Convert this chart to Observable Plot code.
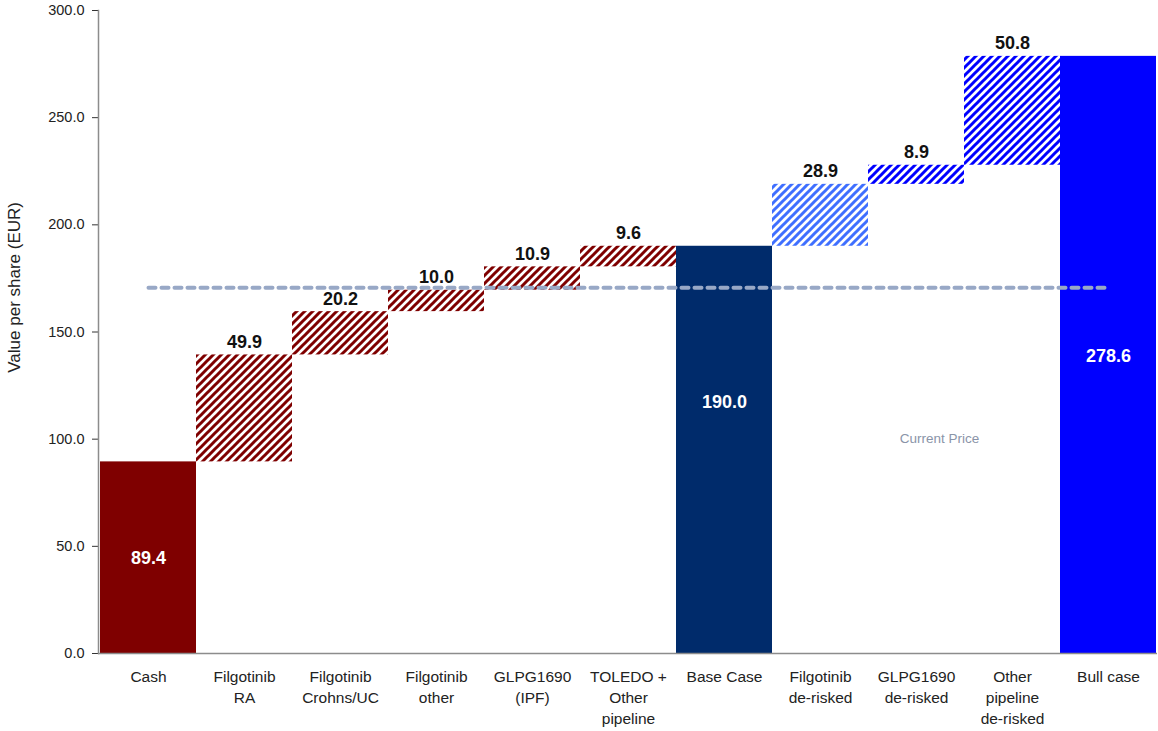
<!DOCTYPE html>
<html>
<head>
<meta charset="utf-8">
<script src="https://cdn.jsdelivr.net/npm/d3@7"></script>
<script src="https://cdn.jsdelivr.net/npm/@observablehq/plot@0.6"></script>
<style>
  html, body { margin: 0; padding: 0; background: #fff; }
  #chart svg { display: block; }
</style>
</head>
<body>
<div id="chart"></div>
<script>
// ---- data ----
const categories = ["Cash", "Filgotinib\nRA", "Filgotinib\nCrohns/UC", "Filgotinib\nother", "GLPG1690\n(IPF)",
  "TOLEDO +\nOther\npipeline", "Base Case", "Filgotinib\nde-risked", "GLPG1690\nde-risked",
  "Other\npipeline\nde-risked", "Bull case"];
const values = [89.4, 49.9, 20.2, 10.0, 10.9, 9.6, 190.0, 28.9, 8.9, 50.8, 278.6];
const isTotal = [true, false, false, false, false, false, true, false, false, false, true];
const barGroup = ["cash", "base", "base", "base", "base", "base", "baseTotal", "bullLight", "bull", "bull", "bullTotal"];
const currentPrice = 170.6;
const currentPriceLabel = "Current Price";
const yTicks = [0, 50, 100, 150, 200, 250, 300];
const yLabel = "Value per share (EUR)";

// ---- styles ----
const groupFill = {
  cash: "#7f0000",
  base: "url(#hatchRed)",
  baseTotal: "#002b6b",
  bullLight: "url(#hatchLightBlue)",
  bull: "url(#hatchBlue)",
  bullTotal: "#0000ff"
};

// build waterfall rows
let running = 0;
const rows = categories.map((c, i) => {
  let y1, y2;
  if (isTotal[i]) { y1 = 0; y2 = values[i]; running = values[i]; }
  else { y1 = running; y2 = running + values[i]; running = y2; }
  return { cat: c, value: values[i], y1, y2, mid: (y1 + y2) / 2, total: isTotal[i], fill: groupFill[barGroup[i]] };
});
const totals = rows.filter(d => d.total);
const steps = rows.filter(d => !d.total);

const font = "'Liberation Sans', Arial, sans-serif";

const chart = Plot.plot({
  width: 1158,
  height: 731,
  marginLeft: 98,
  marginRight: 1,
  marginTop: 10,
  marginBottom: 78,
  style: { fontFamily: font, background: "#fff" },
  x: { domain: categories, padding: 0, axis: null },
  y: { domain: [0, 300], axis: null },
  color: { type: "identity" },
  marks: [
    Plot.barY(rows, { x: "cat", y1: "y1", y2: "y2", fill: "fill", inset: 0 }),
    Plot.ruleY([0], { stroke: "#8c8c8c", strokeWidth: 1.5 }),
    Plot.axisY({ ticks: yTicks, tickFormat: d3.format(".1f"), tickSize: 6, tickPadding: 8,
      fontSize: 14.5, color: "#222", label: null, stroke: "#333" }),
    Plot.frame({ anchor: "left", stroke: "#8c8c8c", strokeWidth: 1.5 }),
    Plot.text([yLabel], { frameAnchor: "left", y: [131], dx: -84, rotate: -90, text: d => d,
      fontSize: 17, fill: "#222" }),
    Plot.line([{ x: categories[0], y: currentPrice }, { x: categories[categories.length - 1], y: currentPrice }],
      { x: "x", y: "y", stroke: "#98a8c6", strokeWidth: 4, strokeDasharray: "7 6", strokeLinecap: "round" }),
    Plot.text(steps, { x: "cat", y: "y2", text: d => d3.format(".1f")(d.value), lineAnchor: "bottom", dy: -7,
      fontSize: 18, fontWeight: "bold", fill: "#111" }),
    Plot.text(totals, { x: "cat", y: "mid", text: d => d3.format(".1f")(d.value), dy: 1,
      fontSize: 18, fontWeight: "bold", fill: "#fff", className: "total-label" }),
    Plot.text(categories, { x: d => d, text: d => d, frameAnchor: "bottom", lineAnchor: "top", dy: 13,
      lineHeight: 1.38, fontSize: 15.5, fill: "#222" }),
    Plot.text([currentPriceLabel], { x: [categories[8]], y: [100.3], dx: 23, text: d => d,
      fontSize: 13.5, fill: "#8a94a8" })
  ]
});

// hatch patterns
const defs = d3.select(chart).insert("defs", ":first-child");
function hatch(id, color, size, sw) {
  const p = defs.append("pattern").attr("id", id).attr("patternUnits", "userSpaceOnUse")
    .attr("width", size).attr("height", size);
  p.append("rect").attr("width", size).attr("height", size).attr("fill", "#fff");
  p.append("path")
    .attr("d", `M${-size/2},${size/2} L${size/2},${-size/2} M0,${size} L${size},0 M${size/2},${size*1.5} L${size*1.5},${size/2}`)
    .attr("stroke", color).attr("stroke-width", sw).attr("stroke-linecap", "square");
}
hatch("hatchRed", "#7f0000", 8, 3);
hatch("hatchLightBlue", "#3f6fff", 8, 3);
hatch("hatchBlue", "#0000ff", 8, 3);

// Base case label sits higher than the middle in the reference
d3.select(chart).selectAll(".total-label text").filter(function () { return this.textContent === "190.0"; })
  .each(function () {
    const y = this.getAttribute("y");
    if (y !== null && !isNaN(+y)) this.setAttribute("y", +y - 49);
    else this.setAttribute("transform", (this.getAttribute("transform") || "") + " translate(0,-49)");
  });

document.getElementById("chart").append(chart);
</script>
</body>
</html>
